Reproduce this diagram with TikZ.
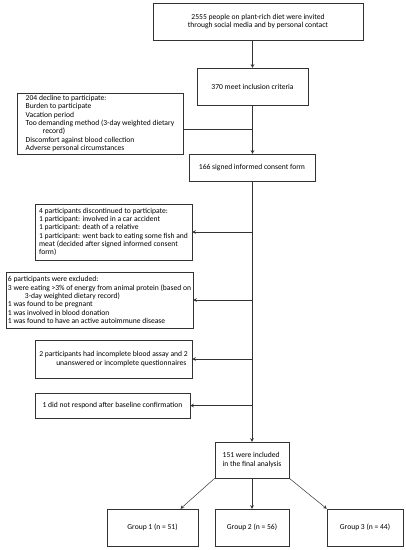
\documentclass[tikz,border=0pt]{standalone}
\usepackage{fontspec}
\setmainfont{Carlito}
\usetikzlibrary{positioning,arrows.meta}

\begin{document}
\begin{tikzpicture}[x=1pt,y=-1pt,
  every node/.style={shape=rectangle,draw=black!80,line width=0.5pt,inner sep=1.5pt,
    font=\fontsize{7.6}{8.3}\selectfont},
  lbox/.style={align=left},
  cbox/.style={align=center},
  arr/.style={-{Stealth[length=3.5pt,width=3.5pt]}},
  link/.style={draw=black!80,line width=0.5pt}
]
\useasboundingbox (0,0) rectangle (406,550);
\node[cbox,minimum width=210pt,minimum height=37pt] (invite) at (258,21.5)
  {2555 people on plant-rich diet were invited\\through social media and by personal contact};
\node[cbox,minimum width=111pt,minimum height=37pt] (meet) at (252.5,86.5) {370 meet inclusion criteria};
\node[lbox,minimum width=166pt,minimum height=61pt] (decline) at (100,123.5)
  {204 decline to participate:\\Burden to participate\\Vacation period\\
   Too demanding method (3-day weighted dietary\\\hspace*{17pt}record)\\
   Discomfort against blood collection\\Adverse personal circumstances};
\node[cbox,minimum width=126pt,minimum height=27pt] (consent) at (252,167.5) {166 signed informed consent form};
\node[lbox,minimum width=157pt,minimum height=56pt] (discont) at (113.5,232)
  {4 participants discontinued to participate:\\1 participant: involved in a car accident\\
   1 participant: death of a relative\\1 participant: went back to eating some fish and\\
   meat (decided after signed informed consent\\form)};
\node[lbox,minimum width=187pt,minimum height=56pt] (exclud) at (99.5,300)
  {6 participants were excluded:\\3 were eating >3\% of energy from animal protein (based on\\
   \hspace*{17pt}3-day weighted dietary record)\\1 was found to be pregnant\\
   1 was involved in blood donation\\1 was found to have an active autoimmune disease};
\node[lbox,minimum width=157pt,minimum height=38pt] (incompl) at (113.5,359)
  {2 participants had incomplete blood assay and 2\\\hspace*{17pt}unanswered or incomplete questionnaires};
\node[cbox,minimum width=155pt,minimum height=25pt] (noresp) at (112.5,405.5) {1 did not respond after baseline confirmation};
\node[lbox,minimum width=74pt,minimum height=36pt] (final) at (252,460) {151 were included\\in the final analysis};
\node[cbox,minimum width=91pt,minimum height=37pt] (g1) at (152.5,527.5) {Group 1 (n = 51)};
\node[cbox,minimum width=74pt,minimum height=37pt] (g2) at (252,527.5) {Group 2 (n = 56)};
\node[cbox,minimum width=76pt,minimum height=37pt] (g3) at (365,527.5) {Group 3 (n = 44)};
\coordinate (j1) at (252,129);
\draw[link,arr] (invite.south -| meet.north) -- (meet.north);
\draw[link,arr] (meet.south) -- (meet.south |- consent.north);
\draw[link] (decline.east |- j1) -- (j1);
\draw[link,arr] (consent.south) -- (final.north);
\draw[link,arr] (consent.south |- discont.east) -- (discont.east);
\draw[link,arr] (consent.south |- exclud.east) -- (exclud.east);
\draw[link,arr] (consent.south |- incompl.east) -- (incompl.east);
\draw[link,arr] (consent.south |- noresp.east) -- (noresp.east);
\draw[link,arr] (final.south west) -- ([xshift=28pt]g1.north);
\draw[link,arr] (final.south) -- (g2.north);
\draw[link,arr] (final.south east) -- (g3.north west);
\end{tikzpicture}
\end{document}
